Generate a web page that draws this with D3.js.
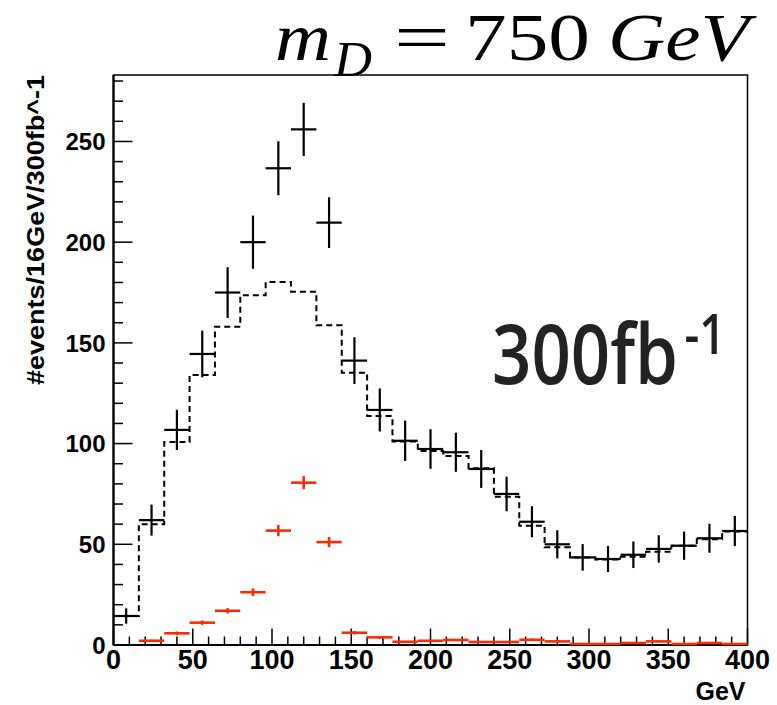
<!DOCTYPE html>
<html>
<head>
<meta charset="utf-8">
<script src="https://cdn.jsdelivr.net/npm/d3@7"></script>
<style>
html,body{margin:0;padding:0;background:#fff;}
svg{display:block;}
</style>
</head>
<body>
<svg id="chart" width="777" height="705"></svg>
<script>
// ---- data (16 GeV bins, 0..400 GeV) ----
const binEdges = d3.range(0, 401, 16);
const dataCounts = [14.4, 62, 106.8, 144.5, 175, 200, 236.7, 256, 209.7, 141.2, 116.7, 101.4, 97.3, 95.7, 87.4, 75, 61.2, 50, 43.5, 42.7, 44.8, 47.7, 49.3, 53, 56.6];
const dataErrors = [3.8, 7.7, 10, 11.6, 12.6, 13.2, 13.4, 13.2, 12.6, 11.6, 10.7, 10, 9.8, 9.7, 9.4, 8.6, 7.7, 7, 6.6, 6.5, 6.6, 6.8, 7, 7.2, 7.5];
const bkgCounts = [14.4, 60, 100.8, 134, 158, 173.6, 180.2, 175.4, 158.7, 135.2, 113.7, 101, 96.3, 93.8, 87.7, 73.6, 59.2, 48.5, 43.4, 42.5, 43.8, 46.3, 49.3, 52.5, 56.3];
const sigCounts = [null, 2.1, 5.8, 11.1, 17, 26.2, 56.8, 80.6, 51.1, 6.1, 3.8, 1.6, 2.1, 2.5, 1.5, 1.5, 2.6, 1.8, 0.5, 0.5, 1.0, 1.8, 0.5, 1.0, 0.5];
const sigErrors = [0, 0.6, 0.9, 1.1, 1.3, 1.9, 2.8, 3.2, 2.5, 0.9, 0.7, 0.5, 0.5, 0.5, 0.4, 0.4, 0.6, 0.5, 0.3, 0.3, 0.4, 0.5, 0.3, 0.4, 0.3];
const xTicks = [0, 50, 100, 150, 200, 250, 300, 350, 400];
const yTicks = [0, 50, 100, 150, 200, 250];
const xTitle = "GeV";
const yTitle = "#events/16GeV/300fb^-1";

// ---- layout ----
const svg = d3.select("#chart");
const L = 113.5, R = 747.5, T = 75, B = 645;
const x = d3.scaleLinear().domain([0, 400]).range([L, R]);
const y = d3.scaleLinear().domain([0, 283]).range([B, T]);
const sans = "Liberation Sans, Arial, Helvetica, sans-serif";
const serif = "Liberation Serif, Times New Roman, serif";

svg.append("rect").attr("width", 777).attr("height", 705).attr("fill", "#fff");

// frame
svg.append("rect").attr("x", L).attr("y", T).attr("width", R - L).attr("height", B - T)
  .attr("fill", "none").attr("stroke", "#000").attr("stroke-width", 1.5);

// ticks - y
const gy = svg.append("g");
d3.range(0, 281, 10).forEach(v => {
  const major = v % 50 === 0;
  gy.append("line").attr("x1", L).attr("x2", L + (major ? 19 : 9.5))
    .attr("y1", y(v)).attr("y2", y(v)).attr("stroke", "#000").attr("stroke-width", 1.5);
});
gy.append("line").attr("x1", L).attr("x2", L).attr("y1", T).attr("y2", B).attr("stroke", "#000").attr("stroke-width", 2.2);
yTicks.forEach(v => {
  gy.append("text").attr("x", L - 8).attr("y", y(v)).attr("dy", "0.36em")
    .attr("text-anchor", "end").attr("font-family", sans)
    .attr("font-weight", "bold").attr("font-size", 24).text(v);
});

// ticks - x
const gx = svg.append("g");
d3.range(0, 401, 10).forEach(v => {
  const major = v % 50 === 0;
  gx.append("line").attr("x1", x(v)).attr("x2", x(v)).attr("y1", B).attr("y2", B - (major ? 16.5 : 8.5))
    .attr("stroke", "#000").attr("stroke-width", 1.5);
});
gx.append("line").attr("x1", L).attr("x2", R).attr("y1", B).attr("y2", B).attr("stroke", "#000").attr("stroke-width", 2.2);
xTicks.forEach(v => {
  gx.append("text").attr("x", x(v)).attr("y", B + 24)
    .attr("text-anchor", "middle").attr("font-family", sans)
    .attr("font-weight", "bold").attr("font-size", 27).text(v);
});

// axis titles
svg.append("text").attr("x", R - 2).attr("y", 700).attr("text-anchor", "end")
  .attr("font-family", sans).attr("font-weight", "bold")
  .attr("font-size", 25).text(xTitle);
svg.append("text").attr("transform", `translate(44,${T}) rotate(-90)`).attr("text-anchor", "end")
  .attr("font-family", sans).attr("font-weight", "bold")
  .attr("font-size", 24).attr("textLength", 310).attr("lengthAdjust", "spacingAndGlyphs").text(yTitle);

// background histogram (dashed step)
const stepPts = [];
bkgCounts.forEach((v, i) => {
  stepPts.push([x(binEdges[i]), y(v)]);
  stepPts.push([x(binEdges[i + 1]), y(v)]);
});
svg.append("path").attr("d", d3.line()(stepPts)).attr("fill", "none")
  .attr("stroke", "#000").attr("stroke-width", 2).attr("stroke-dasharray", "6,4");

// signal (red)
const gs = svg.append("g").attr("stroke", "#ff2a00").attr("stroke-width", 2.6);
sigCounts.forEach((v, i) => {
  if (v === null) return;
  const xc = (binEdges[i] + binEdges[i + 1]) / 2;
  gs.append("line").attr("x1", x(binEdges[i])).attr("x2", x(binEdges[i + 1]))
    .attr("y1", y(v)).attr("y2", y(v));
  if (sigErrors[i] > 0.4)
    gs.append("line").attr("x1", x(xc)).attr("x2", x(xc))
      .attr("y1", y(v - sigErrors[i])).attr("y2", y(v + sigErrors[i]));
});

// data points (black)
const gd = svg.append("g").attr("stroke", "#000").attr("stroke-width", 2.2);
dataCounts.forEach((v, i) => {
  const xc = (binEdges[i] + binEdges[i + 1]) / 2;
  gd.append("line").attr("x1", x(binEdges[i])).attr("x2", x(binEdges[i + 1]))
    .attr("y1", y(v)).attr("y2", y(v));
  gd.append("line").attr("x1", x(xc)).attr("x2", x(xc))
    .attr("y1", y(Math.max(0, v - dataErrors[i]))).attr("y2", y(v + dataErrors[i]));
});

// title m_D = 750 GeV (LaTeX-like), each piece scaled horizontally to the reference width
const titleParts = [
  {t: "m",   x0: 275, y0: 60, fs: 68, it: true,  w: 56},
  {t: "D",   x0: 334, y0: 76, fs: 50, it: true,  w: 38},
  {t: "=",   x0: 394, y0: 60, fs: 68, it: false, w: 56},
  {t: "750", x0: 465, y0: 60, fs: 68, it: false, w: 125},
  {t: "GeV", x0: 608, y0: 60, fs: 68, it: true,  w: 141}
];
titleParts.forEach(p => {
  const g = svg.append("g");
  const tx = g.append("text").attr("x", 0).attr("y", 0)
    .attr("font-family", serif).attr("font-size", p.fs)
    .attr("font-style", p.it ? "italic" : "normal").attr("fill", "#000").text(p.t);
  const nat = tx.node().getComputedTextLength() || p.w;
  g.attr("transform", `translate(${p.x0},${p.y0}) scale(${p.w / nat},1)`);
});

// luminosity label
const lum = svg.append("g").attr("transform", "translate(492,384) scale(0.82,1)");
const lt = lum.append("text").attr("x", 0).attr("y", 0)
  .attr("font-family", "Open Sans, Noto Sans, sans-serif").attr("font-weight", 600)
  .attr("font-size", 84).attr("fill", "#222");
lt.append("tspan").text("300fb");
lt.append("tspan").attr("font-size", 56).attr("dx", 8).attr("dy", -30).text("-1");
</script>
</body>
</html>
